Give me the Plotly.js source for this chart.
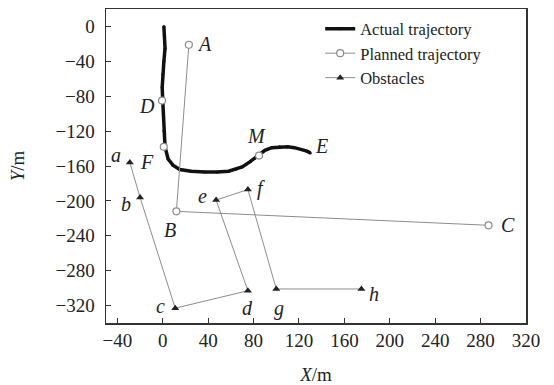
<!DOCTYPE html>
<html>
<head>
<meta charset="utf-8">
<script src="https://cdn.plot.ly/plotly-3.0.1.min.js"></script>
<style>html,body{margin:0;padding:0;background:#fff;}#chart{width:554px;height:385px;}</style>
</head>
<body>
<div id="chart"></div>
<script>
// Actual trajectory (thick black line)
const actualX = [1, 1.5, 2, 1, 0, -0.5, 0, 0.5, 1, 2, 4.7, 9, 15, 25, 37, 48, 58, 64, 70, 77, 84, 90, 96, 103, 110, 116, 122, 127, 130];
const actualY = [0, -10, -25, -40, -55, -70, -85, -100, -120, -138, -152, -159, -164, -166, -167, -167, -166, -164, -161, -155, -148, -142, -139, -138, -138, -139, -141, -143, -145];

// Planned trajectory A -> B -> C
const plannedNames = ['A', 'B', 'C'];
const plannedX = [23, 12, 287];
const plannedY = [-21, -212, -228];

// Marked points on the actual trajectory
const markNames = ['D', 'F', 'M'];
const markX = [-0.6, 0.9, 84.8];
const markY = [-85, -138, -148];
const endName = 'E';

// Obstacles a..h
const obstacleNames = ['a', 'b', 'c', 'd', 'e', 'f', 'g', 'h'];
const obstacleX = [-29, -20, 11, 75, 47, 75, 100, 175];
const obstacleY = [-156, -196, -323, -303, -199, -187, -301, -301];

// Label positions
const labelNames = ['A', 'B', 'C', 'D', 'E', 'F', 'M', 'a', 'b', 'c', 'd', 'e', 'f', 'g', 'h'];
const labelX = [37, 6, 304, -14, 140, -14, 83, -41.5, -32.5, -2, 75, 35, 86.5, 102, 186];
const labelY = [-20, -233, -228, -91, -137, -155, -126, -147, -204, -320, -323, -194, -186, -323, -307];

const gray = '#8c8c8c';
const serif = 'Liberation Serif, Times New Roman, serif';

const traces = [
  {
    x: actualX, y: actualY, name: 'Actual trajectory', mode: 'lines+markers',
    line: {color: '#111', width: 3.5},
    marker: {color: '#111', size: 3},
    hoverinfo: 'skip'
  },
  {
    x: plannedX, y: plannedY, name: 'Planned trajectory', mode: 'lines+markers',
    line: {color: gray, width: 1},
    marker: {symbol: 'circle', size: 7, color: '#fff', line: {color: gray, width: 1.2}},
    hoverinfo: 'skip'
  },
  {
    x: obstacleX, y: obstacleY, name: 'Obstacles', mode: 'lines+markers',
    line: {color: gray, width: 1},
    marker: {symbol: 'triangle-up', size: 7, color: '#222'},
    hoverinfo: 'skip'
  },
  {
    x: markX, y: markY, mode: 'markers', showlegend: false,
    marker: {symbol: 'circle', size: 7, color: '#fff', line: {color: gray, width: 1.2}},
    hoverinfo: 'skip'
  }
];

const annotations = labelNames.map((t, i) => ({
  x: labelX[i], y: labelY[i], xref: 'x', yref: 'y',
  text: '<i>' + t + '</i>', showarrow: false,
  font: {family: serif, size: 20, color: '#222'}
}));

const layout = {
  width: 554, height: 385,
  margin: {l: 106, r: 28, t: 9, b: 62},
  paper_bgcolor: '#fff', plot_bgcolor: '#fff',
  font: {family: serif, size: 18, color: '#222'},
  showlegend: true,
  legend: {
    x: 0.51, y: 0.992, xanchor: 'left', yanchor: 'top',
    bgcolor: 'rgba(0,0,0,0)', borderwidth: 0,
    font: {family: serif, size: 16.5, color: '#222'},
    tracegroupgap: 0, itemwidth: 30
  },
  xaxis: {
    range: [-50, 320], tick0: 0, dtick: 40,
    ticks: 'inside', ticklen: 5, tickcolor: '#333', tickwidth: 1,
    showline: true, linecolor: '#333', linewidth: 1.5, mirror: true,
    showgrid: false, zeroline: false,
    tickfont: {family: serif, size: 19, color: '#222'},
    title: {text: '<i>X</i>/m', font: {family: serif, size: 19, color: '#222'}, standoff: 18}
  },
  yaxis: {
    range: [-340, 20], tick0: 0, dtick: 40,
    ticks: 'inside', ticklen: 5, tickcolor: '#333', tickwidth: 1,
    showline: true, linecolor: '#333', linewidth: 1.5, mirror: true,
    showgrid: false, zeroline: false,
    ticklabelstandoff: 6,
    tickfont: {family: serif, size: 19, color: '#222'},
    title: {text: '<i>Y</i>/m', font: {family: serif, size: 19, color: '#222'}, standoff: 26}
  },
  annotations: annotations
};

Plotly.newPlot('chart', traces, layout, {displayModeBar: false, staticPlot: true});
</script>
</body>
</html>
